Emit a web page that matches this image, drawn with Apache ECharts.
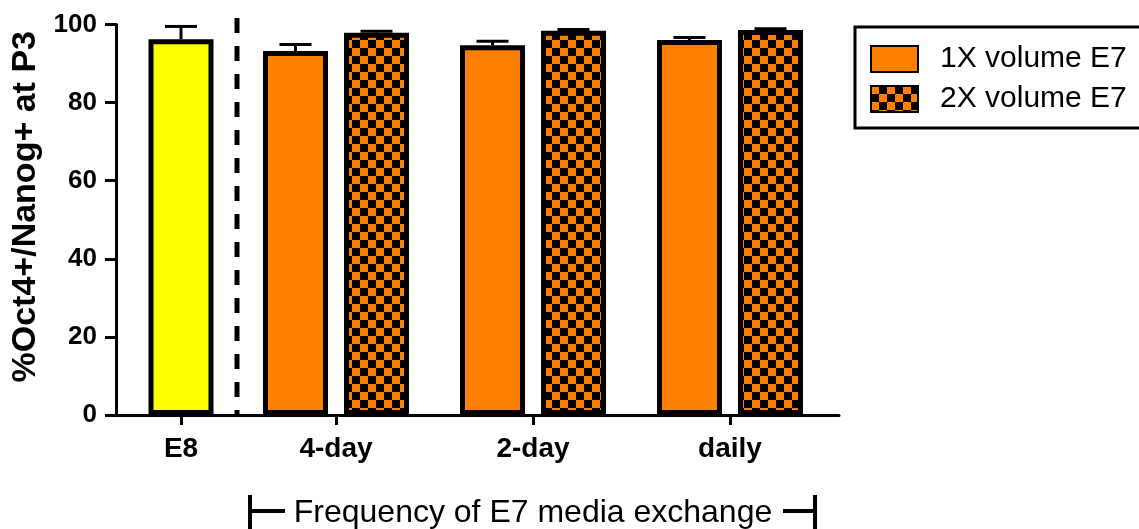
<!DOCTYPE html>
<html>
<head>
<meta charset="utf-8">
<script src="https://cdn.jsdelivr.net/npm/echarts@6/dist/echarts.min.js"></script>
<style>
  html, body { margin: 0; padding: 0; background: #fff; }
  #main { width: 1139px; height: 529px; }
</style>
</head>
<body>
<div id="main"></div>
<script>
// data
const e8Labels = ['E8'];
const e8Values = [96.2];
const e8Errors = [3.3];
const exchangeLabels = ['4-day', '2-day', 'daily'];
const oneXValues = [93.2, 94.7, 96.0];
const oneXErrors = [1.7, 1.0, 0.7];
const twoXValues = [97.9, 98.4, 98.6];
const twoXErrors = [0.4, 0.3, 0.3];
const legendNames = ['1X volume E7', '2X volume E7'];

const FONT = '"Liberation Sans", Arial, sans-serif';
const ORANGE = '#ff8000';

// checkerboard fill for the 2X bars
const tile = document.createElement('canvas');
tile.width = 16;
tile.height = 16;
const ctx = tile.getContext('2d');
ctx.fillStyle = ORANGE;
ctx.fillRect(0, 0, 16, 16);
ctx.fillStyle = '#000';
ctx.fillRect(8, 0, 8, 8);
ctx.fillRect(0, 8, 8, 8);
const checker = { image: tile, repeat: 'repeat' };

const gridTop = 24.5;
const gridBottom = 114;

// error bar, drawn upward only; offset shifts to the bar inside a group
function errorBar(offset) {
  return function (params, api) {
    const base = api.coord([api.value(0), api.value(1)]);
    const top = api.coord([api.value(0), api.value(1) + api.value(2)]);
    const x = base[0] + offset;
    const st = { stroke: '#000', lineWidth: 3 };
    return {
      type: 'group',
      children: [
        { type: 'line', shape: { x1: x, y1: base[1], x2: x, y2: top[1] }, style: st },
        { type: 'line', shape: { x1: x - 16, y1: top[1], x2: x + 16, y2: top[1] }, style: st }
      ]
    };
  };
}

const tickStyle = { show: true, alignWithLabel: true, length: 10, lineStyle: { color: '#000', width: 3 } };
const labelStyle = { color: '#000', fontFamily: FONT, fontWeight: 'bold', fontSize: 28, margin: 20 };
const hiddenY = { type: 'value', min: 0, max: 100, show: false };

const chart = echarts.init(document.getElementById('main'), null, { renderer: 'canvas' });

chart.setOption({
  animation: false,
  backgroundColor: '#fff',
  grid: [
    { left: 116, right: 1139 - 839, top: gridTop, bottom: gridBottom, outerBoundsMode: 'none' },
    // E8 band: one empty band after it keeps the tick logic normal
    { left: 116, width: 260, top: gridTop, bottom: gridBottom, outerBoundsMode: 'none' },
    { left: 237.5, width: 591, top: gridTop, bottom: gridBottom, outerBoundsMode: 'none' }
  ],
  xAxis: [
    {
      gridIndex: 0, type: 'value', min: 0, max: 1,
      axisLine: { show: true, lineStyle: { color: '#000', width: 3 } },
      axisTick: { show: false }, axisLabel: { show: false }, splitLine: { show: false }
    },
    {
      gridIndex: 1, type: 'category', data: e8Labels.concat(['']),
      axisLine: { show: false },
      axisTick: Object.assign({ interval: i => i < e8Labels.length }, tickStyle),
      axisLabel: labelStyle,
      splitLine: { show: false }
    },
    {
      gridIndex: 2, type: 'category', data: exchangeLabels,
      axisLine: { show: false },
      axisTick: tickStyle,
      axisLabel: labelStyle,
      splitLine: { show: false },
      name: 'Frequency of E7 media exchange',
      nameLocation: 'middle',
      nameGap: 82,
      nameTextStyle: { color: '#000', fontFamily: FONT, fontSize: 32 }
    }
  ],
  yAxis: [
    {
      gridIndex: 0, type: 'value', min: 0, max: 100, interval: 20,
      name: '%Oct4+/Nanog+ at P3',
      nameLocation: 'middle',
      nameRotate: 90,
      nameGap: 70,
      nameTextStyle: { color: '#000', fontFamily: FONT, fontWeight: 'bold', fontSize: 34, padding: [0, 0, 0, 26] },
      axisLine: { show: true, lineStyle: { color: '#000', width: 3 } },
      axisTick: { show: true, length: 11, lineStyle: { color: '#000', width: 3 } },
      axisLabel: { color: '#000', fontFamily: FONT, fontWeight: 'bold', fontSize: 26, margin: 19 },
      splitLine: { show: false }
    },
    Object.assign({ gridIndex: 1 }, hiddenY),
    Object.assign({ gridIndex: 2 }, hiddenY)
  ],
  legend: {
    data: legendNames,
    orient: 'vertical',
    left: 855,
    top: 27,
    padding: [17, 30, 14, 15],
    borderColor: '#000',
    borderWidth: 3,
    itemWidth: 47,
    itemHeight: 26,
    itemGap: 10,
    icon: 'rect',
    selectedMode: false,
    textStyle: { color: '#000', fontFamily: FONT, fontSize: 30, lineHeight: 30, padding: [0, 0, 0, 17] }
  },
  series: [
    {
      name: 'E8', type: 'bar', xAxisIndex: 1, yAxisIndex: 1,
      barWidth: 65,
      data: e8Values,
      itemStyle: { color: '#ffff00', borderColor: '#000', borderWidth: 5 }
    },
    {
      type: 'custom', xAxisIndex: 1, yAxisIndex: 1, z: 3,
      renderItem: errorBar(0),
      data: e8Values.map((v, i) => [i, v, e8Errors[i]])
    },
    {
      name: legendNames[0], type: 'bar', xAxisIndex: 2, yAxisIndex: 2,
      barWidth: 65, barGap: '24.6%',
      data: oneXValues,
      itemStyle: { color: ORANGE, borderColor: '#000', borderWidth: 5 }
    },
    {
      name: legendNames[1], type: 'bar', xAxisIndex: 2, yAxisIndex: 2,
      barWidth: 65, barGap: '24.6%',
      data: twoXValues,
      itemStyle: { color: checker, borderColor: '#000', borderWidth: 5 }
    },
    {
      type: 'custom', xAxisIndex: 2, yAxisIndex: 2, z: 3,
      renderItem: errorBar(-40.5),
      data: oneXValues.map((v, i) => [i, v, oneXErrors[i]])
    },
    {
      type: 'custom', xAxisIndex: 2, yAxisIndex: 2, z: 3,
      renderItem: errorBar(40.5),
      data: twoXValues.map((v, i) => [i, v, twoXErrors[i]])
    }
  ],
  graphic: [
    // dashed separator between E8 and the E7 groups
    {
      type: 'line', z: 10,
      shape: { x1: 237, y1: 18, x2: 237, y2: 414 },
      style: { stroke: '#000', lineWidth: 5, lineDash: [15, 13] }
    },
    // bracket around the lower axis title
    { type: 'line', shape: { x1: 250, y1: 495, x2: 250, y2: 529 }, style: { stroke: '#000', lineWidth: 4 } },
    { type: 'line', shape: { x1: 250, y1: 511, x2: 285, y2: 511 }, style: { stroke: '#000', lineWidth: 4 } },
    { type: 'line', shape: { x1: 815, y1: 495, x2: 815, y2: 529 }, style: { stroke: '#000', lineWidth: 4 } },
    { type: 'line', shape: { x1: 783, y1: 511, x2: 815, y2: 511 }, style: { stroke: '#000', lineWidth: 4 } }
  ]
});
</script>
</body>
</html>
